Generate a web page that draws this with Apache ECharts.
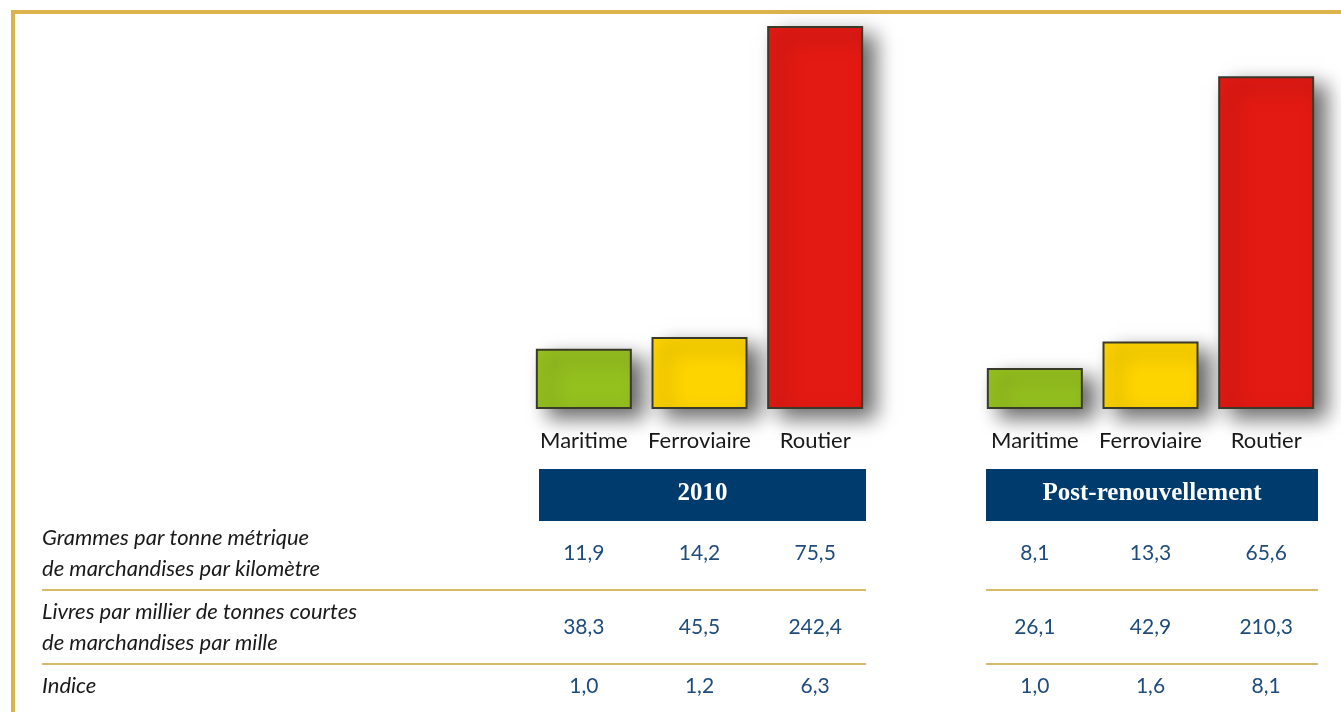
<!DOCTYPE html>
<html>
<head>
<meta charset="utf-8">
<script src="https://cdn.jsdelivr.net/npm/echarts@6/dist/echarts.min.js"></script>
<style>
  html, body { margin: 0; padding: 0; background: #fff; }
  #chart { width: 1341px; height: 712px; }
</style>
</head>
<body>
<div id="chart"></div>
<script>
// modes de transport
const categories = ['Maritime', 'Ferroviaire', 'Routier'];
const groups = ['2010', 'Post-renouvellement'];
const barColors = ['#95c11f', '#fed400', '#e31a13'];

// lignes du tableau
const rowLabels = [
  'Grammes par tonne métrique\nde marchandises par kilomètre',
  'Livres par millier de tonnes courtes\nde marchandises par mille',
  'Indice'
];
const grammes2010 = [11.9, 14.2, 75.5];
const livres2010 = [38.3, 45.5, 242.4];
const indice2010 = [1.0, 1.2, 6.3];
const grammesPost = [8.1, 13.3, 65.6];
const livresPost = [26.1, 42.9, 210.3];
const indicePost = [1.0, 1.6, 8.1];

const table = [
  [grammes2010, livres2010, indice2010],
  [grammesPost, livresPost, indicePost]
];

const fmt = v => v.toFixed(1).replace('.', ',');
const gold = '#dab44a';
const lineGold = '#c9a43a';
const navy = '#003b6d';
const rowY = [553, 627, 686];
const sepY = [590, 664];
const gridLeft = [526, 977];
const gridW = 347;

const chart = echarts.init(document.getElementById('chart'));

const grids = gridLeft.map(l => ({ left: l, width: gridW, top: 26, height: 383 }));
const xAxes = gridLeft.map((l, i) => ({
  type: 'category', gridIndex: i, data: categories,
  axisLine: { show: false }, axisTick: { show: false },
  axisLabel: { interval: 0, hideOverlap: false, margin: 21, fontFamily: 'Lato', fontSize: 22, color: '#1a1a1a' }
}));
const yAxes = gridLeft.map((l, i) => ({
  type: 'value', gridIndex: i, min: 0, max: 75.5, show: false, splitLine: { show: false }
}));
const series = [grammes2010, grammesPost].map((d, i) => ({
  type: 'bar', xAxisIndex: i, yAxisIndex: i, barWidth: 96,
  data: d.map((v, k) => ({
    value: v,
    itemStyle: {
      color: barColors[k], borderColor: '#3a3a2a', borderWidth: 2,
      shadowBlur: 20, shadowOffsetX: 12, shadowOffsetY: 9, shadowColor: 'rgba(0,0,0,0.6)'
    }
  })),
  silent: true
}));

chart.setOption({
  animation: false,
  grid: grids,
  xAxis: xAxes,
  yAxis: yAxes,
  series: series
});

// cadre, en-têtes et tableau
const g = [];
g.push({ type: 'rect', shape: { x: 11, y: 10, width: 1330, height: 4 }, style: { fill: gold } });
g.push({ type: 'rect', shape: { x: 11, y: 10, width: 4, height: 702 }, style: { fill: gold } });

const headX = [[539, 866], [986, 1318]];
headX.forEach((h, i) => {
  g.push({ type: 'rect', shape: { x: h[0], y: 469, width: h[1] - h[0], height: 52 }, style: { fill: navy } });
  g.push({
    type: 'text', x: (h[0] + h[1]) / 2, y: 494,
    style: { text: groups[i], fill: '#fff', font: 'bold 25px "Liberation Serif"', align: 'center', verticalAlign: 'middle' }
  });
  sepY.forEach(y => {
    g.push({ type: 'line', shape: { x1: i === 0 ? 42 : h[0], y1: y, x2: h[1], y2: y }, style: { stroke: lineGold, lineWidth: 1.5 } });
  });
  table[i].forEach((row, r) => {
    row.forEach((v, k) => {
      const px = chart.convertToPixel({ xAxisIndex: i }, categories[k]);
      g.push({
        type: 'text', x: px, y: rowY[r],
        style: { text: fmt(v), fill: '#1f4c7c', font: '21px Lato', align: 'center', verticalAlign: 'middle' }
      });
    });
  });
});

rowLabels.forEach((t, r) => {
  g.push({
    type: 'text', x: 42, y: rowY[r],
    style: { text: t, fill: '#1a1a1a', font: 'italic 22px Lato', lineHeight: 31, align: 'left', verticalAlign: 'middle' }
  });
});

chart.setOption({ graphic: g });
</script>
</body>
</html>
